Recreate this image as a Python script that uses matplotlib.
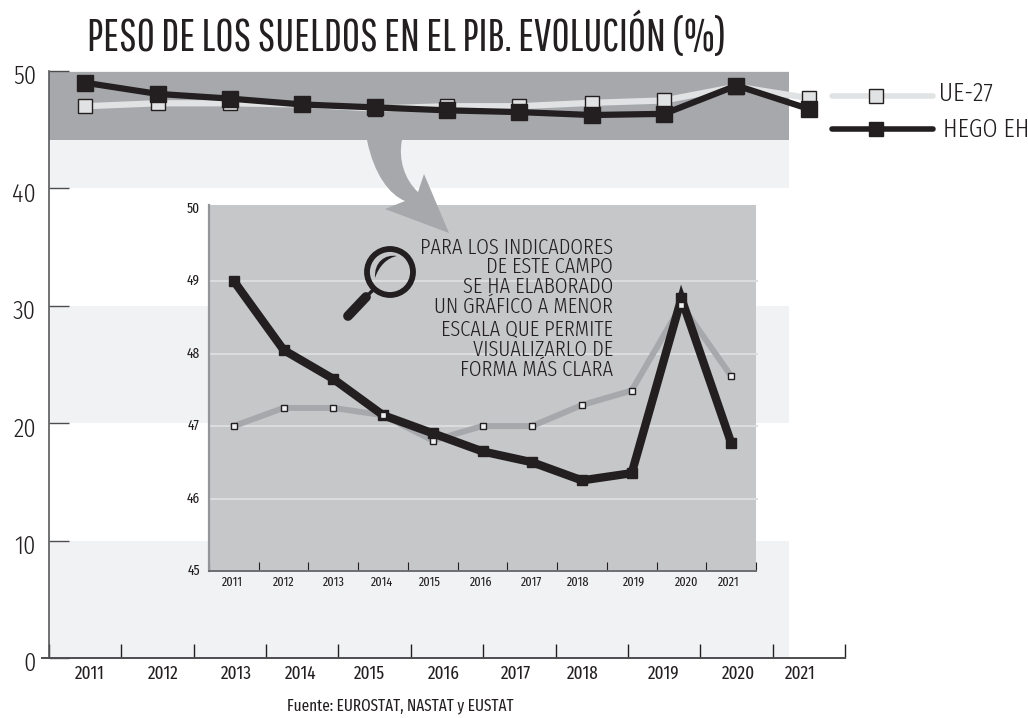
import matplotlib
matplotlib.use('Agg')
import matplotlib.pyplot as plt
from matplotlib.lines import Line2D
from matplotlib.patches import PathPatch, Circle
from matplotlib.path import Path
from matplotlib.transforms import Affine2D

years = ['2011', '2012', '2013', '2014', '2015', '2016', '2017', '2018', '2019', '2020', '2021']
ue27 = [47.0, 47.25, 47.25, 47.15, 46.8, 47.0, 47.0, 47.29, 47.49, 48.67, 47.69]
hego = [49.0, 48.05, 47.65, 47.15, 46.9, 46.65, 46.5, 46.25, 46.35, 48.76, 46.77]
outer_yticks = [0, 10, 20, 30, 40, 50]
inset_yticks = [45, 46, 47, 48, 49, 50]
note_lines = ['PARA LOS INDICADORES', 'DE ESTE CAMPO', 'SE HA ELABORADO', 'UN GRÁFICO A MENOR',
              'ESCALA QUE PERMITE', 'VISUALIZARLO DE', 'FORMA MÁS CLARA']

W, H = 1028, 718
plt.rcParams['font.family'] = ['Fira Sans Extra Condensed', 'Roboto Condensed', 'DejaVu Sans']
plt.rcParams['font.weight'] = 300
title_font = ['Pathway Gothic One', 'Fira Sans Extra Condensed', 'Roboto Condensed', 'DejaVu Sans']

DARK = '#231f20'
fig = plt.figure(figsize=(W / 100, H / 100), dpi=100)
# pixel coordinates of the reference, y going down
px = Affine2D().scale(1, -1).translate(0, H)


def box(x0, y0, x1, y1):
    return [x0 / W, 1 - y1 / H, (x1 - x0) / W, (y1 - y0) / H]


# grafico grande
ax = fig.add_axes(box(49, 71, 845, 658), zorder=1)
ax.set_xlim(0, 11)
ax.set_ylim(0, 50)
band_end = 10.22
for lo in [0, 20, 40]:
    ax.fill_between([0, band_end], lo, lo + 10, color='#f1f2f4', lw=0, zorder=0)
ax.fill_between([0, band_end], 44.15, 49.95, color='#a7a8ab', lw=0, zorder=1)
xs = [i + 0.5 for i in range(len(years))]
ax.plot(xs, ue27, color='#e1e2e3', lw=4.5, marker='s', ms=10.5, mfc='#e1e2e3', mec=DARK, mew=1, zorder=3, clip_on=False)
ax.plot(xs, hego, color=DARK, lw=4.5, marker='s', ms=11.5, mfc=DARK, mec=DARK, zorder=4, clip_on=False)
for s in ['top', 'right']:
    ax.spines[s].set_visible(False)
ax.spines['left'].set_color('#58595b')
ax.spines['left'].set_linewidth(1.2)
ax.spines['bottom'].set_color('#4d4d4f')
ax.spines['bottom'].set_linewidth(1.4)
ax.plot([-0.1, 0], [0, 0], color='#4d4d4f', lw=1.4, clip_on=False, zorder=4)
ax.set_xticks(range(0, 12))
ax.set_xticklabels([])
ax.tick_params(axis='x', direction='in', length=10, width=1, color=DARK)
ax.set_yticks(outer_yticks)
ax.set_yticklabels([])
ax.tick_params(axis='y', direction='in', length=14.4, width=1, color='#4d4d4f')
for v in outer_yticks:
    ax.annotate(str(v), (0, v), xytext=(-13, -6), textcoords='offset pixels', ha='right', va='center',
                fontsize=19, color=DARK, annotation_clip=False)
outer_nudge = [5, 6, 6, -2, -5, -3, -3, -9, 0, 2, -9]
for i, y in enumerate(years):
    ax.annotate(y, (xs[i], 0), xytext=(outer_nudge[i], -16), textcoords='offset pixels',
                ha='center', va='center', fontsize=13.5, fontweight=400, color=DARK, annotation_clip=False)

# grafico pequeno
ins = fig.add_axes(box(209, 205, 756, 571), zorder=2)
ins.set_xlim(0, 11)
ins.set_ylim(45, 50.05)
ins.set_facecolor('#c6c7c9')
ins.patch.set_zorder(0)
ins.hlines(inset_yticks[1:-1], 0, 11.05, color='#dcdddf', lw=1.4, zorder=1, clip_on=False)
ins.plot(xs, ue27, color='#a7a8ab', lw=4.3, zorder=3, solid_joinstyle='miter')
ins.plot(xs, ue27, ls='none', marker='s', ms=5, mfc='#f1f2f4', mec=DARK, mew=1, zorder=5)
ins.plot(xs, hego, color=DARK, lw=6, marker='s', ms=6.5, mfc=DARK, mec=DARK, zorder=4,
         solid_joinstyle='miter', solid_capstyle='butt')
for s in ['top', 'right']:
    ins.spines[s].set_visible(False)
ins.spines['left'].set_color('#939598')
ins.spines['left'].set_linewidth(1.6)
ins.spines['bottom'].set_color('#6d6e71')
ins.spines['bottom'].set_linewidth(1.4)
ins.set_xticks(range(0, 12))
ins.set_xticklabels([])
ins.tick_params(axis='x', direction='in', length=6.5, width=0.8, color=DARK)
ins.set_yticks(inset_yticks)
ins.set_yticklabels([])
ins.tick_params(axis='y', length=0)
for v in inset_yticks:
    ins.annotate(str(v), (0, v), xytext=(-9, 0), textcoords='offset pixels', ha='right', va='center',
                 fontsize=10.5, fontweight=400, color=DARK, annotation_clip=False)
inset_nudge = [-1, 0, 1, -1, -3, -1, -1, -4, 2, 5, -2]
for i, y in enumerate(years):
    ins.annotate(y, (xs[i], 45), xytext=(inset_nudge[i], -11), textcoords='offset pixels',
                 ha='center', va='center', fontsize=9.5, fontweight=400, color=DARK, annotation_clip=False)

# flecha
arrow = Path([(367, 140), (374, 175), (390, 195), (405, 201), (385, 209), (449, 233), (424, 174),
              (418, 192), (405, 180), (398, 160), (402, 140), (367, 140)],
             [Path.MOVETO, Path.CURVE4, Path.CURVE4, Path.CURVE4, Path.LINETO, Path.LINETO, Path.LINETO,
              Path.LINETO, Path.CURVE4, Path.CURVE4, Path.CURVE4, Path.CLOSEPOLY])
fig.add_artist(PathPatch(arrow, fc='#a7a8ab', ec='none', transform=px, zorder=5))

# lupa
fig.add_artist(Circle((390, 272), 23, fc='none', ec=DARK, lw=4.2, transform=px, zorder=6))
shine = Path([(375, 278), (374, 262), (385, 254), (397, 256), (387, 258), (379, 266), (375, 278), (375, 278)],
             [Path.MOVETO, Path.CURVE4, Path.CURVE4, Path.CURVE4, Path.CURVE4, Path.CURVE4, Path.CURVE4, Path.CLOSEPOLY])
fig.add_artist(PathPatch(shine, fc=DARK, ec='none', transform=px, zorder=6))
fig.add_artist(Line2D([373, 365], [290, 298], color=DARK, lw=2.5, transform=px, zorder=6))
fig.add_artist(Line2D([366, 348], [297, 316], color=DARK, lw=7, solid_capstyle='round', transform=px, zorder=6))

# texto de la nota
note_y = [248, 267, 287, 307, 329, 350, 370]
for line, y in zip(note_lines, note_y):
    fig.text(613 / W, 1 - y / H, line, ha='right', va='center', fontsize=16, color=DARK)

# leyenda
for y, col, mfc, label, tx, ty in [(96, '#e1e2e3', '#e1e2e3', 'UE-27', 939, 93), (129, DARK, DARK, 'HEGO EH', 943, 130)]:
    fig.add_artist(Line2D([832, 933], [y, y], color=col, lw=4, solid_capstyle='round', transform=px, zorder=6))
    fig.add_artist(Line2D([876], [y], ls='none', marker='s', ms=10.5, mfc=mfc, mec=DARK, mew=1, transform=px, zorder=7))
    fig.text(tx / W, 1 - ty / H, label, ha='left', va='center', fontsize=19, color=DARK)

fig.text(87 / W, 1 - 36 / H, 'PESO DE LOS SUELDOS EN EL PIB. EVOLUCIÓN (%)', ha='left', va='center',
         fontsize=32, color=DARK, family=title_font)
fig.text(287 / W, 1 - 706 / H, 'Fuente: EUROSTAT, NASTAT y EUSTAT', ha='left', va='center', fontsize=11.9,
         fontweight=400, color=DARK)

fig.savefig('out.png', dpi=100)
